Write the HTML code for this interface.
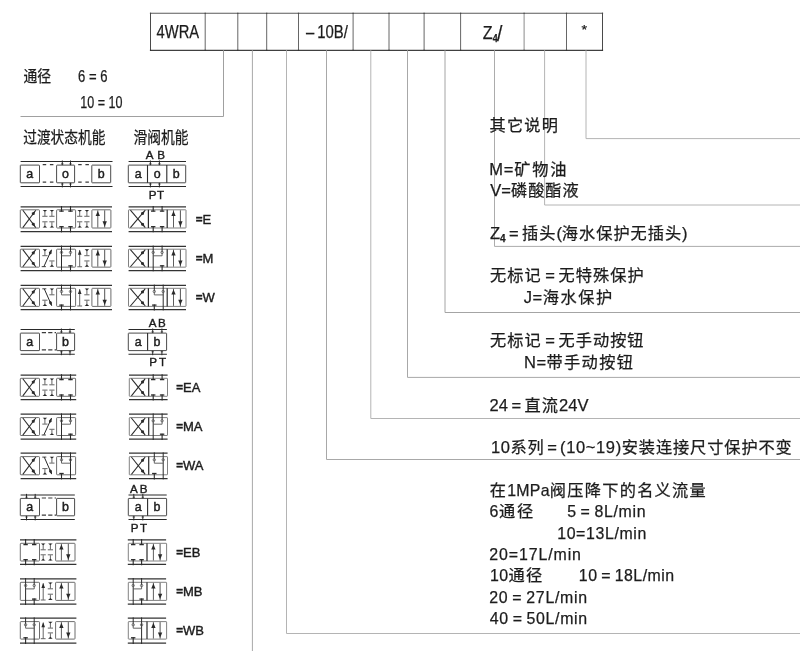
<!DOCTYPE html>
<html lang="zh-CN">
<head>
<meta charset="utf-8">
<title>4WRA 型号说明</title>
<style>
html,body{margin:0;padding:0;background:#fff;overflow:hidden}
svg{display:block;will-change:transform}
text{font-family:"Liberation Sans","Noto Sans CJK SC",sans-serif;white-space:pre;fill:#1c1c1c;stroke:#1c1c1c;stroke-width:0.25px}
</style>
</head>
<body>
<svg width="800" height="651" viewBox="0 0 800 651">
<rect x="0" y="0" width="800" height="651" fill="#ffffff"/>
<line x1="150.00" y1="13.30" x2="603.00" y2="13.30" stroke="#5a5a5a" stroke-width="1.1" />
<line x1="150.00" y1="50.30" x2="603.00" y2="50.30" stroke="#404040" stroke-width="1.2" />
<line x1="150.50" y1="13.30" x2="150.50" y2="50.30" stroke="#4a4a4a" stroke-width="1.0" />
<rect x="149.90" y="12.70" width="1.2" height="1.2" fill="#444"/>
<rect x="149.90" y="49.70" width="1.2" height="1.2" fill="#333"/>
<line x1="205.20" y1="13.30" x2="205.20" y2="50.30" stroke="#666" stroke-width="1.0" />
<rect x="204.60" y="12.70" width="1.2" height="1.2" fill="#444"/>
<rect x="204.60" y="49.70" width="1.2" height="1.2" fill="#333"/>
<line x1="237.80" y1="13.30" x2="237.80" y2="50.30" stroke="#666" stroke-width="1.0" />
<rect x="237.20" y="12.70" width="1.2" height="1.2" fill="#444"/>
<rect x="237.20" y="49.70" width="1.2" height="1.2" fill="#333"/>
<line x1="266.70" y1="13.30" x2="266.70" y2="50.30" stroke="#666" stroke-width="1.0" />
<rect x="266.10" y="12.70" width="1.2" height="1.2" fill="#444"/>
<rect x="266.10" y="49.70" width="1.2" height="1.2" fill="#333"/>
<line x1="298.50" y1="13.30" x2="298.50" y2="50.30" stroke="#666" stroke-width="1.0" />
<rect x="297.90" y="12.70" width="1.2" height="1.2" fill="#444"/>
<rect x="297.90" y="49.70" width="1.2" height="1.2" fill="#333"/>
<line x1="353.10" y1="13.30" x2="353.10" y2="50.30" stroke="#666" stroke-width="1.0" />
<rect x="352.50" y="12.70" width="1.2" height="1.2" fill="#444"/>
<rect x="352.50" y="49.70" width="1.2" height="1.2" fill="#333"/>
<line x1="389.00" y1="13.30" x2="389.00" y2="50.30" stroke="#666" stroke-width="1.0" />
<rect x="388.40" y="12.70" width="1.2" height="1.2" fill="#444"/>
<rect x="388.40" y="49.70" width="1.2" height="1.2" fill="#333"/>
<line x1="424.10" y1="13.30" x2="424.10" y2="50.30" stroke="#666" stroke-width="1.0" />
<rect x="423.50" y="12.70" width="1.2" height="1.2" fill="#444"/>
<rect x="423.50" y="49.70" width="1.2" height="1.2" fill="#333"/>
<line x1="460.60" y1="13.30" x2="460.60" y2="50.30" stroke="#666" stroke-width="1.0" />
<rect x="460.00" y="12.70" width="1.2" height="1.2" fill="#444"/>
<rect x="460.00" y="49.70" width="1.2" height="1.2" fill="#333"/>
<line x1="524.10" y1="13.30" x2="524.10" y2="50.30" stroke="#8a8a8a" stroke-width="1.0" />
<rect x="523.50" y="12.70" width="1.2" height="1.2" fill="#444"/>
<rect x="523.50" y="49.70" width="1.2" height="1.2" fill="#333"/>
<line x1="566.50" y1="13.30" x2="566.50" y2="50.30" stroke="#666" stroke-width="1.0" />
<rect x="565.90" y="12.70" width="1.2" height="1.2" fill="#444"/>
<rect x="565.90" y="49.70" width="1.2" height="1.2" fill="#333"/>
<line x1="602.50" y1="13.30" x2="602.50" y2="50.30" stroke="#4a4a4a" stroke-width="1.0" />
<rect x="601.90" y="12.70" width="1.2" height="1.2" fill="#444"/>
<rect x="601.90" y="49.70" width="1.2" height="1.2" fill="#333"/>
<polyline points="223.5,50.3 223.5,116.5 20.5,116.5" fill="none" stroke="#a0a0a0" stroke-width="1" stroke-linejoin="miter"/>
<line x1="252.40" y1="50.30" x2="252.40" y2="651.00" stroke="#a8a8a8" stroke-width="1.0" />
<polyline points="286.5,50.3 286.5,633.5 800,633.5" fill="none" stroke="#b4b4b4" stroke-width="1" stroke-linejoin="miter"/>
<polyline points="326.5,50.3 326.5,459.5 800,459.5" fill="none" stroke="#a8a8a8" stroke-width="1" stroke-linejoin="miter"/>
<polyline points="370.8,50.3 370.8,418.5 800,418.5" fill="none" stroke="#b4b4b4" stroke-width="1" stroke-linejoin="miter"/>
<polyline points="407.5,50.3 407.5,377.4 800,377.4" fill="none" stroke="#a8a8a8" stroke-width="1" stroke-linejoin="miter"/>
<polyline points="445.0,50.3 445.0,312.5 800,312.5" fill="none" stroke="#a4a4a4" stroke-width="1" stroke-linejoin="miter"/>
<polyline points="494.5,50.3 494.5,246.4 800,246.4" fill="none" stroke="#acacac" stroke-width="1" stroke-linejoin="miter"/>
<polyline points="544.6,50.3 544.6,205.0 800,205.0" fill="none" stroke="#b4b4b4" stroke-width="1" stroke-linejoin="miter"/>
<polyline points="586.0,50.3 586.0,138.6 800,138.6" fill="none" stroke="#b4b4b4" stroke-width="1" stroke-linejoin="miter"/>
<text x="156.60" y="38.20" font-size="17.6" textLength="42.60" lengthAdjust="spacingAndGlyphs" text-anchor="start" fill="#1c1c1c" >4WRA</text>
<text x="306.00" y="38.20" font-size="17.6" textLength="41.8" lengthAdjust="spacingAndGlyphs">–<tspan dx="3.4">10B/</tspan></text>
<text x="482.80" y="38.50" font-size="18.4" textLength="19.6" lengthAdjust="spacingAndGlyphs">Z<tspan font-size="10" dy="3.3" font-weight="bold">4</tspan><tspan font-size="22" dy="-0.6" dx="-0.6">/</tspan></text>
<text x="581.60" y="33.80" font-size="13.5" textLength="5.60" lengthAdjust="spacingAndGlyphs" text-anchor="start" fill="#1c1c1c" >*</text>
<text x="23.40" y="82.00" font-size="16.2" textLength="27.60" lengthAdjust="spacingAndGlyphs" text-anchor="start" fill="#1c1c1c" >通径</text>
<text x="78.00" y="82.00" font-size="16.6" textLength="29.40" lengthAdjust="spacingAndGlyphs" text-anchor="start" fill="#1c1c1c" >6 = 6</text>
<text x="80.20" y="107.60" font-size="16.6" textLength="42.20" lengthAdjust="spacingAndGlyphs" text-anchor="start" fill="#1c1c1c" >10 = 10</text>
<text x="23.20" y="142.80" font-size="16.2" textLength="82.20" lengthAdjust="spacingAndGlyphs" text-anchor="start" fill="#1c1c1c" >过渡状态机能</text>
<text x="133.40" y="142.80" font-size="16.2" textLength="55.00" lengthAdjust="spacingAndGlyphs" text-anchor="start" fill="#1c1c1c" >滑阀机能</text>
<line x1="20.60" y1="161.50" x2="112.50" y2="161.50" stroke="#2a2a2a" stroke-width="1.05" />
<line x1="20.60" y1="186.40" x2="112.50" y2="186.40" stroke="#2a2a2a" stroke-width="1.05" />
<rect x="20.30" y="165.10" width="19.20" height="17.70" rx="0.5" fill="none" stroke="#4c4c4c" stroke-width="1.0"/>
<rect x="56.60" y="165.10" width="18.00" height="17.70" rx="0.5" fill="none" stroke="#4c4c4c" stroke-width="1.0"/>
<rect x="91.80" y="165.10" width="18.90" height="17.70" rx="0.5" fill="none" stroke="#4c4c4c" stroke-width="1.0"/>
<line x1="42.70" y1="164.65" x2="56.00" y2="164.65" stroke="#3c3c3c" stroke-width="1.15" stroke-dasharray="3.5 3.7"/>
<line x1="42.70" y1="182.05" x2="56.00" y2="182.05" stroke="#3c3c3c" stroke-width="1.15" stroke-dasharray="3.5 3.7"/>
<line x1="78.20" y1="164.65" x2="91.50" y2="164.65" stroke="#3c3c3c" stroke-width="1.15" stroke-dasharray="3.5 3.7"/>
<line x1="78.20" y1="182.05" x2="91.50" y2="182.05" stroke="#3c3c3c" stroke-width="1.15" stroke-dasharray="3.5 3.7"/>
<line x1="62.30" y1="160.50" x2="62.30" y2="165.10" stroke="#2a2a2a" stroke-width="1.0" />
<line x1="62.30" y1="187.40" x2="62.30" y2="182.80" stroke="#2a2a2a" stroke-width="1.0" />
<line x1="61.10" y1="163.90" x2="63.50" y2="163.90" stroke="#2a2a2a" stroke-width="0.8" />
<line x1="61.10" y1="184.00" x2="63.50" y2="184.00" stroke="#2a2a2a" stroke-width="0.8" />
<line x1="70.50" y1="160.50" x2="70.50" y2="165.10" stroke="#2a2a2a" stroke-width="1.0" />
<line x1="70.50" y1="187.40" x2="70.50" y2="182.80" stroke="#2a2a2a" stroke-width="1.0" />
<line x1="69.30" y1="163.90" x2="71.70" y2="163.90" stroke="#2a2a2a" stroke-width="0.8" />
<line x1="69.30" y1="184.00" x2="71.70" y2="184.00" stroke="#2a2a2a" stroke-width="0.8" />
<text x="29.70" y="177.70" font-size="12.4" text-anchor="middle" fill="#1c1c1c" style="stroke-width:0.45px">a</text>
<text x="65.50" y="177.70" font-size="12.4" text-anchor="middle" fill="#1c1c1c" style="stroke-width:0.45px">o</text>
<text x="101.20" y="177.70" font-size="12.4" text-anchor="middle" fill="#1c1c1c" style="stroke-width:0.45px">b</text>
<line x1="128.60" y1="161.50" x2="186.00" y2="161.50" stroke="#2a2a2a" stroke-width="1.05" />
<line x1="128.60" y1="186.40" x2="186.00" y2="186.40" stroke="#2a2a2a" stroke-width="1.05" />
<rect x="128.30" y="165.10" width="57.40" height="17.70" rx="0.5" fill="none" stroke="#4c4c4c" stroke-width="1.0"/>
<line x1="147.50" y1="165.10" x2="147.50" y2="182.80" stroke="#2a2a2a" stroke-width="1.1" />
<line x1="166.80" y1="165.10" x2="166.80" y2="182.80" stroke="#2a2a2a" stroke-width="1.1" />
<line x1="150.40" y1="160.50" x2="150.40" y2="165.10" stroke="#2a2a2a" stroke-width="1.0" />
<line x1="150.40" y1="187.40" x2="150.40" y2="182.80" stroke="#2a2a2a" stroke-width="1.0" />
<line x1="149.20" y1="163.90" x2="151.60" y2="163.90" stroke="#2a2a2a" stroke-width="0.8" />
<line x1="149.20" y1="184.00" x2="151.60" y2="184.00" stroke="#2a2a2a" stroke-width="0.8" />
<line x1="159.40" y1="160.50" x2="159.40" y2="165.10" stroke="#2a2a2a" stroke-width="1.0" />
<line x1="159.40" y1="187.40" x2="159.40" y2="182.80" stroke="#2a2a2a" stroke-width="1.0" />
<line x1="158.20" y1="163.90" x2="160.60" y2="163.90" stroke="#2a2a2a" stroke-width="0.8" />
<line x1="158.20" y1="184.00" x2="160.60" y2="184.00" stroke="#2a2a2a" stroke-width="0.8" />
<text x="138.10" y="177.70" font-size="12.4" text-anchor="middle" fill="#1c1c1c" style="stroke-width:0.45px">a</text>
<text x="157.20" y="177.70" font-size="12.4" text-anchor="middle" fill="#1c1c1c" style="stroke-width:0.45px">o</text>
<text x="176.20" y="177.70" font-size="12.4" text-anchor="middle" fill="#1c1c1c" style="stroke-width:0.45px">b</text>
<text x="145.70" y="159.00" font-size="11.6" textLength="19.20" lengthAdjust="spacing" text-anchor="start" fill="#1c1c1c" style="stroke-width:0.4px">AB</text>
<text x="148.80" y="198.80" font-size="11.6" textLength="15.20" lengthAdjust="spacing" text-anchor="start" fill="#1c1c1c" style="stroke-width:0.4px">PT</text>
<line x1="20.60" y1="206.85" x2="112.00" y2="206.85" stroke="#333" stroke-width="1.25" />
<line x1="20.60" y1="231.55" x2="112.00" y2="231.55" stroke="#333" stroke-width="1.25" />
<rect x="20.30" y="209.80" width="19.20" height="18.20" rx="0.7" fill="none" stroke="#5c5c5c" stroke-width="0.9"/>
<line x1="22.80" y1="210.20" x2="35.80" y2="227.60" stroke="#2a2a2a" stroke-width="1.05" />
<line x1="22.80" y1="227.60" x2="35.80" y2="210.20" stroke="#2a2a2a" stroke-width="1.05" />
<polygon points="35.02,211.24 34.57,214.77 32.03,215.25 31.76,212.68" fill="#2a2a2a"/>
<polygon points="35.02,226.56 31.76,225.12 32.03,222.55 34.57,223.03" fill="#2a2a2a"/>
<rect x="56.60" y="209.80" width="19.00" height="18.20" rx="0.7" fill="none" stroke="#5c5c5c" stroke-width="0.9"/>
<rect x="91.90" y="209.80" width="19.00" height="18.20" rx="0.7" fill="none" stroke="#5c5c5c" stroke-width="0.9"/>
<line x1="97.80" y1="210.30" x2="97.80" y2="227.50" stroke="#555" stroke-width="0.95" />
<line x1="104.70" y1="210.30" x2="104.70" y2="227.50" stroke="#4a4a4a" stroke-width="0.95" />
<polygon points="97.80,210.90 99.95,216.10 95.65,216.10" fill="#2a2a2a"/>
<polygon points="104.70,226.70 102.55,221.30 106.85,221.30" fill="#2a2a2a"/>
<line x1="44.90" y1="210.10" x2="44.90" y2="216.00" stroke="#555" stroke-width="0.9" />
<polygon points="42.60,209.90 47.20,209.90 44.90,211.80" fill="#2a2a2a"/>
<line x1="42.30" y1="216.30" x2="47.50" y2="216.30" stroke="#555" stroke-width="0.9" />
<line x1="44.90" y1="227.50" x2="44.90" y2="222.20" stroke="#555" stroke-width="0.9" />
<polygon points="42.60,227.60 47.20,227.60 44.90,225.70" fill="#2a2a2a"/>
<line x1="42.30" y1="221.80" x2="47.50" y2="221.80" stroke="#555" stroke-width="0.9" />
<line x1="51.90" y1="210.10" x2="51.90" y2="216.00" stroke="#555" stroke-width="0.9" />
<polygon points="49.60,209.90 54.20,209.90 51.90,211.80" fill="#2a2a2a"/>
<line x1="49.30" y1="216.30" x2="54.50" y2="216.30" stroke="#555" stroke-width="0.9" />
<line x1="51.90" y1="227.50" x2="51.90" y2="222.20" stroke="#555" stroke-width="0.9" />
<polygon points="49.60,227.60 54.20,227.60 51.90,225.70" fill="#2a2a2a"/>
<line x1="49.30" y1="221.80" x2="54.50" y2="221.80" stroke="#555" stroke-width="0.9" />
<line x1="79.70" y1="210.10" x2="79.70" y2="216.00" stroke="#555" stroke-width="0.9" />
<polygon points="77.40,209.90 82.00,209.90 79.70,211.80" fill="#2a2a2a"/>
<line x1="77.10" y1="216.30" x2="82.30" y2="216.30" stroke="#555" stroke-width="0.9" />
<line x1="79.70" y1="227.50" x2="79.70" y2="222.20" stroke="#555" stroke-width="0.9" />
<polygon points="77.40,227.60 82.00,227.60 79.70,225.70" fill="#2a2a2a"/>
<line x1="77.10" y1="221.80" x2="82.30" y2="221.80" stroke="#555" stroke-width="0.9" />
<line x1="86.90" y1="210.10" x2="86.90" y2="216.00" stroke="#555" stroke-width="0.9" />
<polygon points="84.60,209.90 89.20,209.90 86.90,211.80" fill="#2a2a2a"/>
<line x1="84.30" y1="216.30" x2="89.50" y2="216.30" stroke="#555" stroke-width="0.9" />
<line x1="86.90" y1="227.50" x2="86.90" y2="222.20" stroke="#555" stroke-width="0.9" />
<polygon points="84.60,227.60 89.20,227.60 86.90,225.70" fill="#2a2a2a"/>
<line x1="84.30" y1="221.80" x2="89.50" y2="221.80" stroke="#555" stroke-width="0.9" />
<line x1="61.50" y1="206.05" x2="61.50" y2="211.60" stroke="#2a2a2a" stroke-width="1.1" />
<line x1="59.30" y1="211.10" x2="63.70" y2="211.10" stroke="#2a2a2a" stroke-width="1.3" />
<line x1="61.50" y1="232.35" x2="61.50" y2="226.20" stroke="#2a2a2a" stroke-width="1.1" />
<line x1="59.30" y1="226.70" x2="63.70" y2="226.70" stroke="#2a2a2a" stroke-width="1.3" />
<line x1="70.50" y1="206.05" x2="70.50" y2="211.60" stroke="#2a2a2a" stroke-width="1.1" />
<line x1="68.30" y1="211.10" x2="72.70" y2="211.10" stroke="#2a2a2a" stroke-width="1.3" />
<line x1="70.50" y1="232.35" x2="70.50" y2="226.20" stroke="#2a2a2a" stroke-width="1.1" />
<line x1="68.30" y1="226.70" x2="72.70" y2="226.70" stroke="#2a2a2a" stroke-width="1.3" />
<line x1="128.60" y1="206.85" x2="186.00" y2="206.85" stroke="#333" stroke-width="1.25" />
<line x1="128.60" y1="231.55" x2="186.00" y2="231.55" stroke="#333" stroke-width="1.25" />
<rect x="128.50" y="209.80" width="57.50" height="18.20" rx="0.5" fill="none" stroke="#6a6a6a" stroke-width="0.85"/>
<line x1="148.40" y1="209.80" x2="148.40" y2="228.00" stroke="#2a2a2a" stroke-width="1.2" />
<line x1="167.20" y1="209.80" x2="167.20" y2="228.00" stroke="#2a2a2a" stroke-width="1.2" />
<line x1="130.40" y1="210.20" x2="145.30" y2="227.60" stroke="#2a2a2a" stroke-width="1.05" />
<line x1="130.40" y1="227.60" x2="145.30" y2="210.20" stroke="#2a2a2a" stroke-width="1.05" />
<polygon points="144.41,211.24 143.72,214.74 141.15,215.04 141.06,212.46" fill="#2a2a2a"/>
<polygon points="144.41,226.56 141.06,225.34 141.15,222.76 143.72,223.06" fill="#2a2a2a"/>
<line x1="173.50" y1="210.30" x2="173.50" y2="227.50" stroke="#555" stroke-width="0.95" />
<line x1="180.40" y1="210.30" x2="180.40" y2="227.50" stroke="#4a4a4a" stroke-width="0.95" />
<polygon points="173.50,210.90 175.65,216.10 171.35,216.10" fill="#2a2a2a"/>
<polygon points="180.40,226.70 178.25,221.30 182.55,221.30" fill="#2a2a2a"/>
<line x1="153.20" y1="206.05" x2="153.20" y2="211.60" stroke="#2a2a2a" stroke-width="1.1" />
<line x1="151.00" y1="211.10" x2="155.40" y2="211.10" stroke="#2a2a2a" stroke-width="1.3" />
<line x1="153.20" y1="232.35" x2="153.20" y2="226.20" stroke="#2a2a2a" stroke-width="1.1" />
<line x1="151.00" y1="226.70" x2="155.40" y2="226.70" stroke="#2a2a2a" stroke-width="1.3" />
<line x1="162.10" y1="206.05" x2="162.10" y2="211.60" stroke="#2a2a2a" stroke-width="1.1" />
<line x1="159.90" y1="211.10" x2="164.30" y2="211.10" stroke="#2a2a2a" stroke-width="1.3" />
<line x1="162.10" y1="232.35" x2="162.10" y2="226.20" stroke="#2a2a2a" stroke-width="1.1" />
<line x1="159.90" y1="226.70" x2="164.30" y2="226.70" stroke="#2a2a2a" stroke-width="1.3" />
<text x="195.80" y="223.70" font-size="13" style="stroke-width:0.4px"><tspan font-size="11.6" font-weight="bold" dy="-0.8">=</tspan><tspan dy="0.8">E</tspan></text>
<line x1="20.60" y1="246.35" x2="112.00" y2="246.35" stroke="#333" stroke-width="1.25" />
<line x1="20.60" y1="270.50" x2="112.00" y2="270.50" stroke="#333" stroke-width="1.25" />
<rect x="20.30" y="249.20" width="19.20" height="17.95" rx="0.7" fill="none" stroke="#5c5c5c" stroke-width="0.9"/>
<line x1="22.80" y1="249.60" x2="35.80" y2="266.75" stroke="#2a2a2a" stroke-width="1.05" />
<line x1="22.80" y1="266.75" x2="35.80" y2="249.60" stroke="#2a2a2a" stroke-width="1.05" />
<polygon points="35.02,250.63 34.54,254.16 32.00,254.61 31.75,252.04" fill="#2a2a2a"/>
<polygon points="35.02,265.72 31.75,264.31 32.00,261.74 34.54,262.19" fill="#2a2a2a"/>
<rect x="56.60" y="249.20" width="19.00" height="17.95" rx="0.7" fill="none" stroke="#5c5c5c" stroke-width="0.9"/>
<rect x="91.90" y="249.20" width="19.00" height="17.95" rx="0.7" fill="none" stroke="#5c5c5c" stroke-width="0.9"/>
<line x1="97.80" y1="249.70" x2="97.80" y2="266.65" stroke="#555" stroke-width="0.95" />
<line x1="104.70" y1="249.70" x2="104.70" y2="266.65" stroke="#4a4a4a" stroke-width="0.95" />
<polygon points="97.80,250.30 99.95,255.50 95.65,255.50" fill="#2a2a2a"/>
<polygon points="104.70,265.85 102.55,260.45 106.85,260.45" fill="#2a2a2a"/>
<line x1="44.90" y1="249.50" x2="44.90" y2="255.40" stroke="#555" stroke-width="0.9" />
<polygon points="42.60,249.30 47.20,249.30 44.90,251.20" fill="#2a2a2a"/>
<line x1="42.30" y1="255.70" x2="47.50" y2="255.70" stroke="#555" stroke-width="0.9" />
<line x1="51.90" y1="266.65" x2="51.90" y2="261.35" stroke="#555" stroke-width="0.9" />
<polygon points="49.60,266.75 54.20,266.75 51.90,264.85" fill="#2a2a2a"/>
<line x1="49.30" y1="260.95" x2="54.50" y2="260.95" stroke="#555" stroke-width="0.9" />
<line x1="43.90" y1="266.55" x2="51.50" y2="249.80" stroke="#2a2a2a" stroke-width="1.0" />
<polygon points="51.70,249.40 51.63,253.41 49.36,254.93 48.87,252.24" fill="#2a2a2a"/>
<line x1="41.70" y1="266.65" x2="45.90" y2="266.65" stroke="#2a2a2a" stroke-width="0.9" />
<line x1="79.70" y1="250.20" x2="79.70" y2="266.65" stroke="#555" stroke-width="0.9" />
<polygon points="79.70,249.80 81.50,254.80 77.90,254.80" fill="#2a2a2a"/>
<line x1="77.30" y1="266.75" x2="82.10" y2="266.75" stroke="#555" stroke-width="0.9" />
<line x1="86.90" y1="249.50" x2="86.90" y2="255.40" stroke="#555" stroke-width="0.9" />
<polygon points="84.60,249.30 89.20,249.30 86.90,251.20" fill="#2a2a2a"/>
<line x1="84.30" y1="255.70" x2="89.50" y2="255.70" stroke="#555" stroke-width="0.9" />
<line x1="86.90" y1="266.65" x2="86.90" y2="261.35" stroke="#555" stroke-width="0.9" />
<polygon points="84.60,266.75 89.20,266.75 86.90,264.85" fill="#2a2a2a"/>
<line x1="84.30" y1="260.95" x2="89.50" y2="260.95" stroke="#555" stroke-width="0.9" />
<line x1="61.50" y1="245.55" x2="61.50" y2="271.30" stroke="#2a2a2a" stroke-width="1.0" />
<line x1="70.50" y1="245.55" x2="70.50" y2="252.20" stroke="#2a2a2a" stroke-width="1.0" />
<circle cx="61.50" cy="252.40" r="1.2" fill="none" stroke="#555" stroke-width="0.8"/>
<circle cx="70.50" cy="252.40" r="1.2" fill="none" stroke="#555" stroke-width="0.8"/>
<line x1="61.50" y1="255.80" x2="70.50" y2="255.80" stroke="#555" stroke-width="0.9" />
<line x1="70.50" y1="252.40" x2="70.50" y2="255.80" stroke="#555" stroke-width="0.9" />
<line x1="70.50" y1="271.30" x2="70.50" y2="265.35" stroke="#2a2a2a" stroke-width="1.1" />
<line x1="68.30" y1="265.85" x2="72.70" y2="265.85" stroke="#2a2a2a" stroke-width="1.3" />
<line x1="128.60" y1="246.35" x2="186.00" y2="246.35" stroke="#333" stroke-width="1.25" />
<line x1="128.60" y1="270.50" x2="186.00" y2="270.50" stroke="#333" stroke-width="1.25" />
<rect x="128.50" y="249.20" width="57.50" height="17.95" rx="0.5" fill="none" stroke="#6a6a6a" stroke-width="0.85"/>
<line x1="148.40" y1="249.20" x2="148.40" y2="267.15" stroke="#2a2a2a" stroke-width="1.2" />
<line x1="167.20" y1="249.20" x2="167.20" y2="267.15" stroke="#2a2a2a" stroke-width="1.2" />
<line x1="130.40" y1="249.60" x2="145.30" y2="266.75" stroke="#2a2a2a" stroke-width="1.05" />
<line x1="130.40" y1="266.75" x2="145.30" y2="249.60" stroke="#2a2a2a" stroke-width="1.05" />
<polygon points="144.41,250.63 143.69,254.12 141.13,254.40 141.05,251.82" fill="#2a2a2a"/>
<polygon points="144.41,265.72 141.05,264.53 141.13,261.95 143.69,262.23" fill="#2a2a2a"/>
<line x1="173.50" y1="249.70" x2="173.50" y2="266.65" stroke="#555" stroke-width="0.95" />
<line x1="180.40" y1="249.70" x2="180.40" y2="266.65" stroke="#4a4a4a" stroke-width="0.95" />
<polygon points="173.50,250.30 175.65,255.50 171.35,255.50" fill="#2a2a2a"/>
<polygon points="180.40,265.85 178.25,260.45 182.55,260.45" fill="#2a2a2a"/>
<line x1="153.20" y1="245.55" x2="153.20" y2="271.30" stroke="#2a2a2a" stroke-width="1.0" />
<line x1="162.10" y1="245.55" x2="162.10" y2="252.20" stroke="#2a2a2a" stroke-width="1.0" />
<circle cx="153.20" cy="252.40" r="1.2" fill="none" stroke="#555" stroke-width="0.8"/>
<circle cx="162.10" cy="252.40" r="1.2" fill="none" stroke="#555" stroke-width="0.8"/>
<line x1="153.20" y1="255.80" x2="162.10" y2="255.80" stroke="#555" stroke-width="0.9" />
<line x1="162.10" y1="252.40" x2="162.10" y2="255.80" stroke="#555" stroke-width="0.9" />
<line x1="162.10" y1="271.30" x2="162.10" y2="265.35" stroke="#2a2a2a" stroke-width="1.1" />
<line x1="159.90" y1="265.85" x2="164.30" y2="265.85" stroke="#2a2a2a" stroke-width="1.3" />
<text x="195.80" y="262.97" font-size="13" style="stroke-width:0.4px"><tspan font-size="11.6" font-weight="bold" dy="-0.8">=</tspan><tspan dy="0.8">M</tspan></text>
<line x1="20.60" y1="285.40" x2="112.00" y2="285.40" stroke="#333" stroke-width="1.25" />
<line x1="20.60" y1="309.60" x2="112.00" y2="309.60" stroke="#333" stroke-width="1.25" />
<rect x="20.30" y="288.30" width="19.20" height="18.10" rx="0.7" fill="none" stroke="#5c5c5c" stroke-width="0.9"/>
<line x1="22.80" y1="288.70" x2="35.80" y2="306.00" stroke="#2a2a2a" stroke-width="1.05" />
<line x1="22.80" y1="306.00" x2="35.80" y2="288.70" stroke="#2a2a2a" stroke-width="1.05" />
<polygon points="35.02,289.74 34.56,293.27 32.02,293.74 31.76,291.16" fill="#2a2a2a"/>
<polygon points="35.02,304.96 31.76,303.54 32.02,300.96 34.56,301.43" fill="#2a2a2a"/>
<rect x="56.60" y="288.30" width="19.00" height="18.10" rx="0.7" fill="none" stroke="#5c5c5c" stroke-width="0.9"/>
<rect x="91.90" y="288.30" width="19.00" height="18.10" rx="0.7" fill="none" stroke="#5c5c5c" stroke-width="0.9"/>
<line x1="97.80" y1="288.80" x2="97.80" y2="305.90" stroke="#555" stroke-width="0.95" />
<line x1="104.70" y1="288.80" x2="104.70" y2="305.90" stroke="#4a4a4a" stroke-width="0.95" />
<polygon points="97.80,289.40 99.95,294.60 95.65,294.60" fill="#2a2a2a"/>
<polygon points="104.70,305.10 102.55,299.70 106.85,299.70" fill="#2a2a2a"/>
<line x1="51.90" y1="288.60" x2="51.90" y2="294.50" stroke="#555" stroke-width="0.9" />
<polygon points="49.60,288.40 54.20,288.40 51.90,290.30" fill="#2a2a2a"/>
<line x1="49.30" y1="294.80" x2="54.50" y2="294.80" stroke="#555" stroke-width="0.9" />
<line x1="44.90" y1="305.90" x2="44.90" y2="300.60" stroke="#555" stroke-width="0.9" />
<polygon points="42.60,306.00 47.20,306.00 44.90,304.10" fill="#2a2a2a"/>
<line x1="42.30" y1="300.20" x2="47.50" y2="300.20" stroke="#555" stroke-width="0.9" />
<line x1="44.30" y1="288.90" x2="51.70" y2="305.60" stroke="#2a2a2a" stroke-width="1.0" />
<polygon points="51.90,306.10 49.08,303.25 49.58,300.57 51.84,302.09" fill="#2a2a2a"/>
<line x1="42.30" y1="288.80" x2="46.30" y2="288.80" stroke="#2a2a2a" stroke-width="0.9" />
<line x1="79.70" y1="289.30" x2="79.70" y2="305.90" stroke="#555" stroke-width="0.9" />
<polygon points="79.70,288.90 81.50,293.90 77.90,293.90" fill="#2a2a2a"/>
<line x1="77.30" y1="306.00" x2="82.10" y2="306.00" stroke="#555" stroke-width="0.9" />
<line x1="86.90" y1="288.60" x2="86.90" y2="294.50" stroke="#555" stroke-width="0.9" />
<polygon points="84.60,288.40 89.20,288.40 86.90,290.30" fill="#2a2a2a"/>
<line x1="84.30" y1="294.80" x2="89.50" y2="294.80" stroke="#555" stroke-width="0.9" />
<line x1="86.90" y1="305.90" x2="86.90" y2="300.60" stroke="#555" stroke-width="0.9" />
<polygon points="84.60,306.00 89.20,306.00 86.90,304.10" fill="#2a2a2a"/>
<line x1="84.30" y1="300.20" x2="89.50" y2="300.20" stroke="#555" stroke-width="0.9" />
<line x1="70.50" y1="284.60" x2="70.50" y2="310.40" stroke="#2a2a2a" stroke-width="1.0" />
<line x1="61.50" y1="284.60" x2="61.50" y2="291.30" stroke="#2a2a2a" stroke-width="1.0" />
<circle cx="70.50" cy="291.50" r="1.2" fill="none" stroke="#555" stroke-width="0.8"/>
<circle cx="61.50" cy="291.50" r="1.2" fill="none" stroke="#555" stroke-width="0.8"/>
<line x1="61.50" y1="294.90" x2="70.50" y2="294.90" stroke="#555" stroke-width="0.9" />
<line x1="61.50" y1="291.50" x2="61.50" y2="294.90" stroke="#555" stroke-width="0.9" />
<line x1="61.50" y1="310.40" x2="61.50" y2="304.60" stroke="#2a2a2a" stroke-width="1.1" />
<line x1="59.30" y1="305.10" x2="63.70" y2="305.10" stroke="#2a2a2a" stroke-width="1.3" />
<line x1="128.60" y1="285.40" x2="186.00" y2="285.40" stroke="#333" stroke-width="1.25" />
<line x1="128.60" y1="309.60" x2="186.00" y2="309.60" stroke="#333" stroke-width="1.25" />
<rect x="128.50" y="288.30" width="57.50" height="18.10" rx="0.5" fill="none" stroke="#6a6a6a" stroke-width="0.85"/>
<line x1="148.40" y1="288.30" x2="148.40" y2="306.40" stroke="#2a2a2a" stroke-width="1.2" />
<line x1="167.20" y1="288.30" x2="167.20" y2="306.40" stroke="#2a2a2a" stroke-width="1.2" />
<line x1="130.40" y1="288.70" x2="145.30" y2="306.00" stroke="#2a2a2a" stroke-width="1.05" />
<line x1="130.40" y1="306.00" x2="145.30" y2="288.70" stroke="#2a2a2a" stroke-width="1.05" />
<polygon points="144.41,289.74 143.71,293.23 141.14,293.53 141.06,290.94" fill="#2a2a2a"/>
<polygon points="144.41,304.96 141.06,303.76 141.14,301.17 143.71,301.47" fill="#2a2a2a"/>
<line x1="173.50" y1="288.80" x2="173.50" y2="305.90" stroke="#555" stroke-width="0.95" />
<line x1="180.40" y1="288.80" x2="180.40" y2="305.90" stroke="#4a4a4a" stroke-width="0.95" />
<polygon points="173.50,289.40 175.65,294.60 171.35,294.60" fill="#2a2a2a"/>
<polygon points="180.40,305.10 178.25,299.70 182.55,299.70" fill="#2a2a2a"/>
<line x1="163.20" y1="284.60" x2="163.20" y2="310.40" stroke="#2a2a2a" stroke-width="1.0" />
<line x1="154.30" y1="284.60" x2="154.30" y2="291.30" stroke="#2a2a2a" stroke-width="1.0" />
<circle cx="163.20" cy="291.50" r="1.2" fill="none" stroke="#555" stroke-width="0.8"/>
<circle cx="154.30" cy="291.50" r="1.2" fill="none" stroke="#555" stroke-width="0.8"/>
<line x1="154.30" y1="294.90" x2="163.20" y2="294.90" stroke="#555" stroke-width="0.9" />
<line x1="154.30" y1="291.50" x2="154.30" y2="294.90" stroke="#555" stroke-width="0.9" />
<line x1="154.30" y1="310.40" x2="154.30" y2="304.60" stroke="#2a2a2a" stroke-width="1.1" />
<line x1="152.10" y1="305.10" x2="156.50" y2="305.10" stroke="#2a2a2a" stroke-width="1.3" />
<text x="195.80" y="302.15" font-size="13" style="stroke-width:0.4px"><tspan font-size="11.6" font-weight="bold" dy="-0.8">=</tspan><tspan dy="0.8">W</tspan></text>
<line x1="20.60" y1="329.50" x2="74.80" y2="329.50" stroke="#2a2a2a" stroke-width="1.05" />
<line x1="20.60" y1="354.20" x2="74.80" y2="354.20" stroke="#2a2a2a" stroke-width="1.05" />
<rect x="20.30" y="333.10" width="19.20" height="17.50" rx="0.5" fill="none" stroke="#4c4c4c" stroke-width="1.0"/>
<rect x="56.60" y="333.10" width="18.00" height="17.50" rx="0.5" fill="none" stroke="#4c4c4c" stroke-width="1.0"/>
<line x1="41.80" y1="332.65" x2="56.00" y2="332.65" stroke="#3c3c3c" stroke-width="1.15" stroke-dasharray="4.2 2.2"/>
<line x1="41.80" y1="349.85" x2="56.00" y2="349.85" stroke="#3c3c3c" stroke-width="1.15" stroke-dasharray="4.2 2.2"/>
<line x1="61.40" y1="328.50" x2="61.40" y2="333.10" stroke="#2a2a2a" stroke-width="1.0" />
<line x1="61.40" y1="355.20" x2="61.40" y2="350.60" stroke="#2a2a2a" stroke-width="1.0" />
<line x1="60.20" y1="331.90" x2="62.60" y2="331.90" stroke="#2a2a2a" stroke-width="0.8" />
<line x1="60.20" y1="351.80" x2="62.60" y2="351.80" stroke="#2a2a2a" stroke-width="0.8" />
<line x1="70.00" y1="328.50" x2="70.00" y2="333.10" stroke="#2a2a2a" stroke-width="1.0" />
<line x1="70.00" y1="355.20" x2="70.00" y2="350.60" stroke="#2a2a2a" stroke-width="1.0" />
<line x1="68.80" y1="331.90" x2="71.20" y2="331.90" stroke="#2a2a2a" stroke-width="0.8" />
<line x1="68.80" y1="351.80" x2="71.20" y2="351.80" stroke="#2a2a2a" stroke-width="0.8" />
<text x="29.70" y="345.50" font-size="12.4" text-anchor="middle" fill="#1c1c1c" style="stroke-width:0.45px">a</text>
<text x="65.50" y="345.50" font-size="12.4" text-anchor="middle" fill="#1c1c1c" style="stroke-width:0.45px">b</text>
<line x1="128.50" y1="329.50" x2="166.90" y2="329.50" stroke="#2a2a2a" stroke-width="1.05" />
<line x1="128.50" y1="354.20" x2="166.90" y2="354.20" stroke="#2a2a2a" stroke-width="1.05" />
<rect x="128.30" y="333.10" width="38.30" height="17.50" rx="0.5" fill="none" stroke="#4c4c4c" stroke-width="1.0"/>
<line x1="147.60" y1="333.10" x2="147.60" y2="350.60" stroke="#2a2a2a" stroke-width="1.1" />
<line x1="152.70" y1="328.50" x2="152.70" y2="333.10" stroke="#2a2a2a" stroke-width="1.0" />
<line x1="152.70" y1="355.20" x2="152.70" y2="350.60" stroke="#2a2a2a" stroke-width="1.0" />
<line x1="151.50" y1="331.90" x2="153.90" y2="331.90" stroke="#2a2a2a" stroke-width="0.8" />
<line x1="151.50" y1="351.80" x2="153.90" y2="351.80" stroke="#2a2a2a" stroke-width="0.8" />
<line x1="161.90" y1="328.50" x2="161.90" y2="333.10" stroke="#2a2a2a" stroke-width="1.0" />
<line x1="161.90" y1="355.20" x2="161.90" y2="350.60" stroke="#2a2a2a" stroke-width="1.0" />
<line x1="160.70" y1="331.90" x2="163.10" y2="331.90" stroke="#2a2a2a" stroke-width="0.8" />
<line x1="160.70" y1="351.80" x2="163.10" y2="351.80" stroke="#2a2a2a" stroke-width="0.8" />
<text x="138.10" y="345.50" font-size="12.4" text-anchor="middle" fill="#1c1c1c" style="stroke-width:0.45px">a</text>
<text x="156.90" y="345.50" font-size="12.4" text-anchor="middle" fill="#1c1c1c" style="stroke-width:0.45px">b</text>
<text x="148.80" y="327.00" font-size="11.6" textLength="17.00" lengthAdjust="spacing" text-anchor="start" fill="#1c1c1c" style="stroke-width:0.4px">AB</text>
<text x="149.20" y="366.10" font-size="11.6" textLength="17.00" lengthAdjust="spacing" text-anchor="start" fill="#1c1c1c" style="stroke-width:0.4px">PT</text>
<line x1="20.60" y1="375.00" x2="76.20" y2="375.00" stroke="#333" stroke-width="1.25" />
<line x1="20.60" y1="399.70" x2="76.20" y2="399.70" stroke="#333" stroke-width="1.25" />
<rect x="20.30" y="378.30" width="19.20" height="18.00" rx="0.7" fill="none" stroke="#5c5c5c" stroke-width="0.9"/>
<line x1="22.80" y1="378.70" x2="35.80" y2="395.90" stroke="#2a2a2a" stroke-width="1.05" />
<line x1="22.80" y1="395.90" x2="35.80" y2="378.70" stroke="#2a2a2a" stroke-width="1.05" />
<polygon points="35.02,379.73 34.55,383.26 32.01,383.72 31.75,381.15" fill="#2a2a2a"/>
<polygon points="35.02,394.87 31.75,393.45 32.01,390.88 34.55,391.34" fill="#2a2a2a"/>
<rect x="56.60" y="378.30" width="19.00" height="18.00" rx="0.7" fill="none" stroke="#5c5c5c" stroke-width="0.9"/>
<line x1="44.90" y1="378.60" x2="44.90" y2="384.50" stroke="#555" stroke-width="0.9" />
<polygon points="42.60,378.40 47.20,378.40 44.90,380.30" fill="#2a2a2a"/>
<line x1="42.30" y1="384.80" x2="47.50" y2="384.80" stroke="#555" stroke-width="0.9" />
<line x1="44.90" y1="395.80" x2="44.90" y2="390.50" stroke="#555" stroke-width="0.9" />
<polygon points="42.60,395.90 47.20,395.90 44.90,394.00" fill="#2a2a2a"/>
<line x1="42.30" y1="390.10" x2="47.50" y2="390.10" stroke="#555" stroke-width="0.9" />
<line x1="51.90" y1="378.60" x2="51.90" y2="384.50" stroke="#555" stroke-width="0.9" />
<polygon points="49.60,378.40 54.20,378.40 51.90,380.30" fill="#2a2a2a"/>
<line x1="49.30" y1="384.80" x2="54.50" y2="384.80" stroke="#555" stroke-width="0.9" />
<line x1="51.90" y1="395.80" x2="51.90" y2="390.50" stroke="#555" stroke-width="0.9" />
<polygon points="49.60,395.90 54.20,395.90 51.90,394.00" fill="#2a2a2a"/>
<line x1="49.30" y1="390.10" x2="54.50" y2="390.10" stroke="#555" stroke-width="0.9" />
<line x1="61.50" y1="374.20" x2="61.50" y2="380.10" stroke="#2a2a2a" stroke-width="1.1" />
<line x1="59.30" y1="379.60" x2="63.70" y2="379.60" stroke="#2a2a2a" stroke-width="1.3" />
<line x1="61.50" y1="400.50" x2="61.50" y2="394.50" stroke="#2a2a2a" stroke-width="1.1" />
<line x1="59.30" y1="395.00" x2="63.70" y2="395.00" stroke="#2a2a2a" stroke-width="1.3" />
<line x1="70.50" y1="374.20" x2="70.50" y2="380.10" stroke="#2a2a2a" stroke-width="1.1" />
<line x1="68.30" y1="379.60" x2="72.70" y2="379.60" stroke="#2a2a2a" stroke-width="1.3" />
<line x1="70.50" y1="400.50" x2="70.50" y2="394.50" stroke="#2a2a2a" stroke-width="1.1" />
<line x1="68.30" y1="395.00" x2="72.70" y2="395.00" stroke="#2a2a2a" stroke-width="1.3" />
<line x1="129.00" y1="375.00" x2="167.60" y2="375.00" stroke="#333" stroke-width="1.25" />
<line x1="129.00" y1="399.70" x2="167.60" y2="399.70" stroke="#333" stroke-width="1.25" />
<rect x="129.30" y="378.30" width="38.20" height="18.00" rx="0.5" fill="none" stroke="#6a6a6a" stroke-width="0.85"/>
<line x1="148.70" y1="378.30" x2="148.70" y2="396.30" stroke="#2a2a2a" stroke-width="1.2" />
<line x1="131.40" y1="378.70" x2="145.20" y2="395.90" stroke="#2a2a2a" stroke-width="1.05" />
<line x1="131.40" y1="395.90" x2="145.20" y2="378.70" stroke="#2a2a2a" stroke-width="1.05" />
<polygon points="144.37,379.73 143.80,383.25 141.24,383.63 141.07,381.05" fill="#2a2a2a"/>
<polygon points="144.37,394.87 141.07,393.55 141.24,390.97 143.80,391.35" fill="#2a2a2a"/>
<line x1="153.20" y1="374.20" x2="153.20" y2="380.10" stroke="#2a2a2a" stroke-width="1.1" />
<line x1="151.00" y1="379.60" x2="155.40" y2="379.60" stroke="#2a2a2a" stroke-width="1.3" />
<line x1="153.20" y1="400.50" x2="153.20" y2="394.50" stroke="#2a2a2a" stroke-width="1.1" />
<line x1="151.00" y1="395.00" x2="155.40" y2="395.00" stroke="#2a2a2a" stroke-width="1.3" />
<line x1="162.10" y1="374.20" x2="162.10" y2="380.10" stroke="#2a2a2a" stroke-width="1.1" />
<line x1="159.90" y1="379.60" x2="164.30" y2="379.60" stroke="#2a2a2a" stroke-width="1.3" />
<line x1="162.10" y1="400.50" x2="162.10" y2="394.50" stroke="#2a2a2a" stroke-width="1.1" />
<line x1="159.90" y1="395.00" x2="164.30" y2="395.00" stroke="#2a2a2a" stroke-width="1.3" />
<text x="176.20" y="391.80" font-size="13" style="stroke-width:0.4px"><tspan font-size="11.6" font-weight="bold" dy="-0.8">=</tspan><tspan dy="0.8">EA</tspan></text>
<line x1="20.60" y1="414.20" x2="76.20" y2="414.20" stroke="#333" stroke-width="1.25" />
<line x1="20.60" y1="439.20" x2="76.20" y2="439.20" stroke="#333" stroke-width="1.25" />
<rect x="20.30" y="417.60" width="19.20" height="17.90" rx="0.7" fill="none" stroke="#5c5c5c" stroke-width="0.9"/>
<line x1="22.80" y1="418.00" x2="35.80" y2="435.10" stroke="#2a2a2a" stroke-width="1.05" />
<line x1="22.80" y1="435.10" x2="35.80" y2="418.00" stroke="#2a2a2a" stroke-width="1.05" />
<polygon points="35.02,419.03 34.54,422.55 31.99,423.01 31.75,420.43" fill="#2a2a2a"/>
<polygon points="35.02,434.07 31.75,432.67 31.99,430.09 34.54,430.55" fill="#2a2a2a"/>
<rect x="56.60" y="417.60" width="19.00" height="17.90" rx="0.7" fill="none" stroke="#5c5c5c" stroke-width="0.9"/>
<line x1="44.90" y1="417.90" x2="44.90" y2="423.80" stroke="#555" stroke-width="0.9" />
<polygon points="42.60,417.70 47.20,417.70 44.90,419.60" fill="#2a2a2a"/>
<line x1="42.30" y1="424.10" x2="47.50" y2="424.10" stroke="#555" stroke-width="0.9" />
<line x1="51.90" y1="435.00" x2="51.90" y2="429.70" stroke="#555" stroke-width="0.9" />
<polygon points="49.60,435.10 54.20,435.10 51.90,433.20" fill="#2a2a2a"/>
<line x1="49.30" y1="429.30" x2="54.50" y2="429.30" stroke="#555" stroke-width="0.9" />
<line x1="43.90" y1="434.90" x2="51.50" y2="418.20" stroke="#2a2a2a" stroke-width="1.0" />
<polygon points="51.70,417.80 51.63,421.81 49.36,423.32 48.87,420.64" fill="#2a2a2a"/>
<line x1="41.70" y1="435.00" x2="45.90" y2="435.00" stroke="#2a2a2a" stroke-width="0.9" />
<line x1="61.50" y1="413.40" x2="61.50" y2="440.00" stroke="#2a2a2a" stroke-width="1.0" />
<line x1="70.50" y1="413.40" x2="70.50" y2="420.60" stroke="#2a2a2a" stroke-width="1.0" />
<circle cx="61.50" cy="420.80" r="1.2" fill="none" stroke="#555" stroke-width="0.8"/>
<circle cx="70.50" cy="420.80" r="1.2" fill="none" stroke="#555" stroke-width="0.8"/>
<line x1="61.50" y1="424.20" x2="70.50" y2="424.20" stroke="#555" stroke-width="0.9" />
<line x1="70.50" y1="420.80" x2="70.50" y2="424.20" stroke="#555" stroke-width="0.9" />
<line x1="70.50" y1="440.00" x2="70.50" y2="433.70" stroke="#2a2a2a" stroke-width="1.1" />
<line x1="68.30" y1="434.20" x2="72.70" y2="434.20" stroke="#2a2a2a" stroke-width="1.3" />
<line x1="129.00" y1="414.20" x2="167.60" y2="414.20" stroke="#333" stroke-width="1.25" />
<line x1="129.00" y1="439.20" x2="167.60" y2="439.20" stroke="#333" stroke-width="1.25" />
<rect x="129.30" y="417.60" width="38.20" height="17.90" rx="0.5" fill="none" stroke="#6a6a6a" stroke-width="0.85"/>
<line x1="148.70" y1="417.60" x2="148.70" y2="435.50" stroke="#2a2a2a" stroke-width="1.2" />
<line x1="131.40" y1="418.00" x2="145.20" y2="435.10" stroke="#2a2a2a" stroke-width="1.05" />
<line x1="131.40" y1="435.10" x2="145.20" y2="418.00" stroke="#2a2a2a" stroke-width="1.05" />
<polygon points="144.37,419.03 143.79,422.54 141.23,422.92 141.06,420.34" fill="#2a2a2a"/>
<polygon points="144.37,434.07 141.06,432.76 141.23,430.18 143.79,430.56" fill="#2a2a2a"/>
<line x1="153.20" y1="413.40" x2="153.20" y2="440.00" stroke="#2a2a2a" stroke-width="1.0" />
<line x1="162.10" y1="413.40" x2="162.10" y2="420.60" stroke="#2a2a2a" stroke-width="1.0" />
<circle cx="153.20" cy="420.80" r="1.2" fill="none" stroke="#555" stroke-width="0.8"/>
<circle cx="162.10" cy="420.80" r="1.2" fill="none" stroke="#555" stroke-width="0.8"/>
<line x1="153.20" y1="424.20" x2="162.10" y2="424.20" stroke="#555" stroke-width="0.9" />
<line x1="162.10" y1="420.80" x2="162.10" y2="424.20" stroke="#555" stroke-width="0.9" />
<line x1="162.10" y1="440.00" x2="162.10" y2="433.70" stroke="#2a2a2a" stroke-width="1.1" />
<line x1="159.90" y1="434.20" x2="164.30" y2="434.20" stroke="#2a2a2a" stroke-width="1.3" />
<text x="176.20" y="431.05" font-size="13" style="stroke-width:0.4px"><tspan font-size="11.6" font-weight="bold" dy="-0.8">=</tspan><tspan dy="0.8">MA</tspan></text>
<line x1="20.60" y1="453.20" x2="76.20" y2="453.20" stroke="#333" stroke-width="1.25" />
<line x1="20.60" y1="478.60" x2="76.20" y2="478.60" stroke="#333" stroke-width="1.25" />
<rect x="20.30" y="456.60" width="19.20" height="18.20" rx="0.7" fill="none" stroke="#5c5c5c" stroke-width="0.9"/>
<line x1="22.80" y1="457.00" x2="35.80" y2="474.40" stroke="#2a2a2a" stroke-width="1.05" />
<line x1="22.80" y1="474.40" x2="35.80" y2="457.00" stroke="#2a2a2a" stroke-width="1.05" />
<polygon points="35.02,458.04 34.57,461.57 32.03,462.05 31.76,459.48" fill="#2a2a2a"/>
<polygon points="35.02,473.36 31.76,471.92 32.03,469.35 34.57,469.83" fill="#2a2a2a"/>
<rect x="56.60" y="456.60" width="19.00" height="18.20" rx="0.7" fill="none" stroke="#5c5c5c" stroke-width="0.9"/>
<line x1="51.90" y1="456.90" x2="51.90" y2="462.80" stroke="#555" stroke-width="0.9" />
<polygon points="49.60,456.70 54.20,456.70 51.90,458.60" fill="#2a2a2a"/>
<line x1="49.30" y1="463.10" x2="54.50" y2="463.10" stroke="#555" stroke-width="0.9" />
<line x1="44.90" y1="474.30" x2="44.90" y2="469.00" stroke="#555" stroke-width="0.9" />
<polygon points="42.60,474.40 47.20,474.40 44.90,472.50" fill="#2a2a2a"/>
<line x1="42.30" y1="468.60" x2="47.50" y2="468.60" stroke="#555" stroke-width="0.9" />
<line x1="44.30" y1="457.20" x2="51.70" y2="474.00" stroke="#2a2a2a" stroke-width="1.0" />
<polygon points="51.90,474.50 49.08,471.65 49.59,468.96 51.85,470.49" fill="#2a2a2a"/>
<line x1="42.30" y1="457.10" x2="46.30" y2="457.10" stroke="#2a2a2a" stroke-width="0.9" />
<line x1="70.50" y1="452.40" x2="70.50" y2="479.40" stroke="#2a2a2a" stroke-width="1.0" />
<line x1="61.50" y1="452.40" x2="61.50" y2="459.60" stroke="#2a2a2a" stroke-width="1.0" />
<circle cx="70.50" cy="459.80" r="1.2" fill="none" stroke="#555" stroke-width="0.8"/>
<circle cx="61.50" cy="459.80" r="1.2" fill="none" stroke="#555" stroke-width="0.8"/>
<line x1="61.50" y1="463.20" x2="70.50" y2="463.20" stroke="#555" stroke-width="0.9" />
<line x1="61.50" y1="459.80" x2="61.50" y2="463.20" stroke="#555" stroke-width="0.9" />
<line x1="61.50" y1="479.40" x2="61.50" y2="473.00" stroke="#2a2a2a" stroke-width="1.1" />
<line x1="59.30" y1="473.50" x2="63.70" y2="473.50" stroke="#2a2a2a" stroke-width="1.3" />
<line x1="129.00" y1="453.20" x2="167.60" y2="453.20" stroke="#333" stroke-width="1.25" />
<line x1="129.00" y1="478.60" x2="167.60" y2="478.60" stroke="#333" stroke-width="1.25" />
<rect x="129.30" y="456.60" width="38.20" height="18.20" rx="0.5" fill="none" stroke="#6a6a6a" stroke-width="0.85"/>
<line x1="148.70" y1="456.60" x2="148.70" y2="474.80" stroke="#2a2a2a" stroke-width="1.2" />
<line x1="131.40" y1="457.00" x2="145.20" y2="474.40" stroke="#2a2a2a" stroke-width="1.05" />
<line x1="131.40" y1="474.40" x2="145.20" y2="457.00" stroke="#2a2a2a" stroke-width="1.05" />
<polygon points="144.37,458.04 143.82,461.56 141.27,461.96 141.07,459.39" fill="#2a2a2a"/>
<polygon points="144.37,473.36 141.07,472.01 141.27,469.44 143.82,469.84" fill="#2a2a2a"/>
<line x1="163.20" y1="452.40" x2="163.20" y2="479.40" stroke="#2a2a2a" stroke-width="1.0" />
<line x1="154.30" y1="452.40" x2="154.30" y2="459.60" stroke="#2a2a2a" stroke-width="1.0" />
<circle cx="163.20" cy="459.80" r="1.2" fill="none" stroke="#555" stroke-width="0.8"/>
<circle cx="154.30" cy="459.80" r="1.2" fill="none" stroke="#555" stroke-width="0.8"/>
<line x1="154.30" y1="463.20" x2="163.20" y2="463.20" stroke="#555" stroke-width="0.9" />
<line x1="154.30" y1="459.80" x2="154.30" y2="463.20" stroke="#555" stroke-width="0.9" />
<line x1="154.30" y1="479.40" x2="154.30" y2="473.00" stroke="#2a2a2a" stroke-width="1.1" />
<line x1="152.10" y1="473.50" x2="156.50" y2="473.50" stroke="#2a2a2a" stroke-width="1.3" />
<text x="176.20" y="470.20" font-size="13" style="stroke-width:0.4px"><tspan font-size="11.6" font-weight="bold" dy="-0.8">=</tspan><tspan dy="0.8">WA</tspan></text>
<line x1="20.60" y1="494.90" x2="74.80" y2="494.90" stroke="#2a2a2a" stroke-width="1.05" />
<line x1="20.60" y1="519.40" x2="74.80" y2="519.40" stroke="#2a2a2a" stroke-width="1.05" />
<rect x="20.30" y="498.40" width="19.20" height="17.40" rx="0.5" fill="none" stroke="#4c4c4c" stroke-width="1.0"/>
<rect x="56.60" y="498.40" width="18.00" height="17.40" rx="0.5" fill="none" stroke="#4c4c4c" stroke-width="1.0"/>
<line x1="41.80" y1="497.95" x2="56.00" y2="497.95" stroke="#3c3c3c" stroke-width="1.15" stroke-dasharray="4.2 2.2"/>
<line x1="41.80" y1="515.05" x2="56.00" y2="515.05" stroke="#3c3c3c" stroke-width="1.15" stroke-dasharray="4.2 2.2"/>
<line x1="26.50" y1="493.90" x2="26.50" y2="498.40" stroke="#2a2a2a" stroke-width="1.0" />
<line x1="26.50" y1="520.40" x2="26.50" y2="515.80" stroke="#2a2a2a" stroke-width="1.0" />
<line x1="25.30" y1="497.20" x2="27.70" y2="497.20" stroke="#2a2a2a" stroke-width="0.8" />
<line x1="25.30" y1="517.00" x2="27.70" y2="517.00" stroke="#2a2a2a" stroke-width="0.8" />
<line x1="35.20" y1="493.90" x2="35.20" y2="498.40" stroke="#2a2a2a" stroke-width="1.0" />
<line x1="35.20" y1="520.40" x2="35.20" y2="515.80" stroke="#2a2a2a" stroke-width="1.0" />
<line x1="34.00" y1="497.20" x2="36.40" y2="497.20" stroke="#2a2a2a" stroke-width="0.8" />
<line x1="34.00" y1="517.00" x2="36.40" y2="517.00" stroke="#2a2a2a" stroke-width="0.8" />
<text x="29.70" y="510.70" font-size="12.4" text-anchor="middle" fill="#1c1c1c" style="stroke-width:0.45px">a</text>
<text x="65.50" y="510.70" font-size="12.4" text-anchor="middle" fill="#1c1c1c" style="stroke-width:0.45px">b</text>
<line x1="128.50" y1="494.90" x2="166.70" y2="494.90" stroke="#2a2a2a" stroke-width="1.05" />
<line x1="128.50" y1="519.40" x2="166.70" y2="519.40" stroke="#2a2a2a" stroke-width="1.05" />
<rect x="128.30" y="498.40" width="38.30" height="17.40" rx="0.5" fill="none" stroke="#4c4c4c" stroke-width="1.0"/>
<line x1="147.60" y1="498.40" x2="147.60" y2="515.80" stroke="#2a2a2a" stroke-width="1.1" />
<line x1="133.80" y1="493.90" x2="133.80" y2="498.40" stroke="#2a2a2a" stroke-width="1.0" />
<line x1="133.80" y1="520.40" x2="133.80" y2="515.80" stroke="#2a2a2a" stroke-width="1.0" />
<line x1="132.60" y1="497.20" x2="135.00" y2="497.20" stroke="#2a2a2a" stroke-width="0.8" />
<line x1="132.60" y1="517.00" x2="135.00" y2="517.00" stroke="#2a2a2a" stroke-width="0.8" />
<line x1="142.80" y1="493.90" x2="142.80" y2="498.40" stroke="#2a2a2a" stroke-width="1.0" />
<line x1="142.80" y1="520.40" x2="142.80" y2="515.80" stroke="#2a2a2a" stroke-width="1.0" />
<line x1="141.60" y1="497.20" x2="144.00" y2="497.20" stroke="#2a2a2a" stroke-width="0.8" />
<line x1="141.60" y1="517.00" x2="144.00" y2="517.00" stroke="#2a2a2a" stroke-width="0.8" />
<text x="138.10" y="510.70" font-size="12.4" text-anchor="middle" fill="#1c1c1c" style="stroke-width:0.45px">a</text>
<text x="156.90" y="510.70" font-size="12.4" text-anchor="middle" fill="#1c1c1c" style="stroke-width:0.45px">b</text>
<text x="130.00" y="492.60" font-size="11.6" textLength="17.40" lengthAdjust="spacing" text-anchor="start" fill="#1c1c1c" style="stroke-width:0.4px">AB</text>
<text x="130.80" y="531.90" font-size="11.6" textLength="16.20" lengthAdjust="spacing" text-anchor="start" fill="#1c1c1c" style="stroke-width:0.4px">PT</text>
<line x1="20.00" y1="539.90" x2="76.40" y2="539.90" stroke="#333" stroke-width="1.25" />
<line x1="20.00" y1="564.40" x2="76.40" y2="564.40" stroke="#333" stroke-width="1.25" />
<rect x="20.30" y="543.30" width="19.20" height="17.70" rx="0.7" fill="none" stroke="#5c5c5c" stroke-width="0.9"/>
<rect x="55.60" y="543.30" width="19.40" height="17.70" rx="0.7" fill="none" stroke="#5c5c5c" stroke-width="0.9"/>
<line x1="61.40" y1="543.80" x2="61.40" y2="560.50" stroke="#555" stroke-width="0.95" />
<line x1="68.30" y1="543.80" x2="68.30" y2="560.50" stroke="#4a4a4a" stroke-width="0.95" />
<polygon points="61.40,544.40 63.55,549.60 59.25,549.60" fill="#2a2a2a"/>
<polygon points="68.30,559.70 66.15,554.30 70.45,554.30" fill="#2a2a2a"/>
<line x1="43.20" y1="543.60" x2="43.20" y2="549.50" stroke="#555" stroke-width="0.9" />
<polygon points="40.90,543.40 45.50,543.40 43.20,545.30" fill="#2a2a2a"/>
<line x1="40.60" y1="549.80" x2="45.80" y2="549.80" stroke="#555" stroke-width="0.9" />
<line x1="43.20" y1="560.50" x2="43.20" y2="555.20" stroke="#555" stroke-width="0.9" />
<polygon points="40.90,560.60 45.50,560.60 43.20,558.70" fill="#2a2a2a"/>
<line x1="40.60" y1="554.80" x2="45.80" y2="554.80" stroke="#555" stroke-width="0.9" />
<line x1="50.40" y1="543.60" x2="50.40" y2="549.50" stroke="#555" stroke-width="0.9" />
<polygon points="48.10,543.40 52.70,543.40 50.40,545.30" fill="#2a2a2a"/>
<line x1="47.80" y1="549.80" x2="53.00" y2="549.80" stroke="#555" stroke-width="0.9" />
<line x1="50.40" y1="560.50" x2="50.40" y2="555.20" stroke="#555" stroke-width="0.9" />
<polygon points="48.10,560.60 52.70,560.60 50.40,558.70" fill="#2a2a2a"/>
<line x1="47.80" y1="554.80" x2="53.00" y2="554.80" stroke="#555" stroke-width="0.9" />
<line x1="25.60" y1="539.10" x2="25.60" y2="545.10" stroke="#2a2a2a" stroke-width="1.1" />
<line x1="23.40" y1="544.60" x2="27.80" y2="544.60" stroke="#2a2a2a" stroke-width="1.3" />
<line x1="25.60" y1="565.20" x2="25.60" y2="559.20" stroke="#2a2a2a" stroke-width="1.1" />
<line x1="23.40" y1="559.70" x2="27.80" y2="559.70" stroke="#2a2a2a" stroke-width="1.3" />
<line x1="34.20" y1="539.10" x2="34.20" y2="545.10" stroke="#2a2a2a" stroke-width="1.1" />
<line x1="32.00" y1="544.60" x2="36.40" y2="544.60" stroke="#2a2a2a" stroke-width="1.3" />
<line x1="34.20" y1="565.20" x2="34.20" y2="559.20" stroke="#2a2a2a" stroke-width="1.1" />
<line x1="32.00" y1="559.70" x2="36.40" y2="559.70" stroke="#2a2a2a" stroke-width="1.3" />
<line x1="127.80" y1="539.90" x2="166.10" y2="539.90" stroke="#333" stroke-width="1.25" />
<line x1="127.80" y1="564.40" x2="166.10" y2="564.40" stroke="#333" stroke-width="1.25" />
<rect x="128.30" y="543.30" width="38.30" height="17.70" rx="0.5" fill="none" stroke="#6a6a6a" stroke-width="0.85"/>
<line x1="147.00" y1="543.30" x2="147.00" y2="561.00" stroke="#2a2a2a" stroke-width="1.2" />
<line x1="153.40" y1="543.80" x2="153.40" y2="560.50" stroke="#555" stroke-width="0.95" />
<line x1="160.10" y1="543.80" x2="160.10" y2="560.50" stroke="#4a4a4a" stroke-width="0.95" />
<polygon points="153.40,544.40 155.55,549.60 151.25,549.60" fill="#2a2a2a"/>
<polygon points="160.10,559.70 157.95,554.30 162.25,554.30" fill="#2a2a2a"/>
<line x1="133.20" y1="539.10" x2="133.20" y2="545.10" stroke="#2a2a2a" stroke-width="1.1" />
<line x1="131.00" y1="544.60" x2="135.40" y2="544.60" stroke="#2a2a2a" stroke-width="1.3" />
<line x1="133.20" y1="565.20" x2="133.20" y2="559.20" stroke="#2a2a2a" stroke-width="1.1" />
<line x1="131.00" y1="559.70" x2="135.40" y2="559.70" stroke="#2a2a2a" stroke-width="1.3" />
<line x1="141.60" y1="539.10" x2="141.60" y2="545.10" stroke="#2a2a2a" stroke-width="1.1" />
<line x1="139.40" y1="544.60" x2="143.80" y2="544.60" stroke="#2a2a2a" stroke-width="1.3" />
<line x1="141.60" y1="565.20" x2="141.60" y2="559.20" stroke="#2a2a2a" stroke-width="1.1" />
<line x1="139.40" y1="559.70" x2="143.80" y2="559.70" stroke="#2a2a2a" stroke-width="1.3" />
<text x="176.20" y="556.65" font-size="13" style="stroke-width:0.4px"><tspan font-size="11.6" font-weight="bold" dy="-0.8">=</tspan><tspan dy="0.8">EB</tspan></text>
<line x1="20.00" y1="578.80" x2="76.40" y2="578.80" stroke="#333" stroke-width="1.25" />
<line x1="20.00" y1="604.20" x2="76.40" y2="604.20" stroke="#333" stroke-width="1.25" />
<rect x="20.30" y="582.30" width="19.20" height="18.10" rx="0.7" fill="none" stroke="#5c5c5c" stroke-width="0.9"/>
<rect x="55.60" y="582.30" width="19.40" height="18.10" rx="0.7" fill="none" stroke="#5c5c5c" stroke-width="0.9"/>
<line x1="61.40" y1="582.80" x2="61.40" y2="599.90" stroke="#555" stroke-width="0.95" />
<line x1="68.30" y1="582.80" x2="68.30" y2="599.90" stroke="#4a4a4a" stroke-width="0.95" />
<polygon points="61.40,583.40 63.55,588.60 59.25,588.60" fill="#2a2a2a"/>
<polygon points="68.30,599.10 66.15,593.70 70.45,593.70" fill="#2a2a2a"/>
<line x1="43.20" y1="583.30" x2="43.20" y2="599.90" stroke="#555" stroke-width="0.9" />
<polygon points="43.20,582.90 45.00,587.90 41.40,587.90" fill="#2a2a2a"/>
<line x1="40.80" y1="600.00" x2="45.60" y2="600.00" stroke="#555" stroke-width="0.9" />
<line x1="50.40" y1="582.60" x2="50.40" y2="588.50" stroke="#555" stroke-width="0.9" />
<polygon points="48.10,582.40 52.70,582.40 50.40,584.30" fill="#2a2a2a"/>
<line x1="47.80" y1="588.80" x2="53.00" y2="588.80" stroke="#555" stroke-width="0.9" />
<line x1="50.40" y1="599.90" x2="50.40" y2="594.60" stroke="#555" stroke-width="0.9" />
<polygon points="48.10,600.00 52.70,600.00 50.40,598.10" fill="#2a2a2a"/>
<line x1="47.80" y1="594.20" x2="53.00" y2="594.20" stroke="#555" stroke-width="0.9" />
<line x1="25.60" y1="578.00" x2="25.60" y2="605.00" stroke="#2a2a2a" stroke-width="1.0" />
<line x1="34.20" y1="578.00" x2="34.20" y2="585.30" stroke="#2a2a2a" stroke-width="1.0" />
<circle cx="25.60" cy="585.50" r="1.2" fill="none" stroke="#555" stroke-width="0.8"/>
<circle cx="34.20" cy="585.50" r="1.2" fill="none" stroke="#555" stroke-width="0.8"/>
<line x1="25.60" y1="588.90" x2="34.20" y2="588.90" stroke="#555" stroke-width="0.9" />
<line x1="34.20" y1="585.50" x2="34.20" y2="588.90" stroke="#555" stroke-width="0.9" />
<line x1="34.20" y1="605.00" x2="34.20" y2="598.60" stroke="#2a2a2a" stroke-width="1.1" />
<line x1="32.00" y1="599.10" x2="36.40" y2="599.10" stroke="#2a2a2a" stroke-width="1.3" />
<line x1="127.80" y1="578.80" x2="166.10" y2="578.80" stroke="#333" stroke-width="1.25" />
<line x1="127.80" y1="604.20" x2="166.10" y2="604.20" stroke="#333" stroke-width="1.25" />
<rect x="128.30" y="582.30" width="38.30" height="18.10" rx="0.5" fill="none" stroke="#6a6a6a" stroke-width="0.85"/>
<line x1="147.00" y1="582.30" x2="147.00" y2="600.40" stroke="#2a2a2a" stroke-width="1.2" />
<line x1="153.40" y1="582.80" x2="153.40" y2="599.90" stroke="#555" stroke-width="0.95" />
<line x1="160.10" y1="582.80" x2="160.10" y2="599.90" stroke="#4a4a4a" stroke-width="0.95" />
<polygon points="153.40,583.40 155.55,588.60 151.25,588.60" fill="#2a2a2a"/>
<polygon points="160.10,599.10 157.95,593.70 162.25,593.70" fill="#2a2a2a"/>
<line x1="133.20" y1="578.00" x2="133.20" y2="605.00" stroke="#2a2a2a" stroke-width="1.0" />
<line x1="141.60" y1="578.00" x2="141.60" y2="585.30" stroke="#2a2a2a" stroke-width="1.0" />
<circle cx="133.20" cy="585.50" r="1.2" fill="none" stroke="#555" stroke-width="0.8"/>
<circle cx="141.60" cy="585.50" r="1.2" fill="none" stroke="#555" stroke-width="0.8"/>
<line x1="133.20" y1="588.90" x2="141.60" y2="588.90" stroke="#555" stroke-width="0.9" />
<line x1="141.60" y1="585.50" x2="141.60" y2="588.90" stroke="#555" stroke-width="0.9" />
<line x1="141.60" y1="605.00" x2="141.60" y2="598.60" stroke="#2a2a2a" stroke-width="1.1" />
<line x1="139.40" y1="599.10" x2="143.80" y2="599.10" stroke="#2a2a2a" stroke-width="1.3" />
<text x="176.20" y="595.85" font-size="13" style="stroke-width:0.4px"><tspan font-size="11.6" font-weight="bold" dy="-0.8">=</tspan><tspan dy="0.8">MB</tspan></text>
<line x1="20.00" y1="618.20" x2="76.40" y2="618.20" stroke="#333" stroke-width="1.25" />
<line x1="20.00" y1="643.20" x2="76.40" y2="643.20" stroke="#333" stroke-width="1.25" />
<rect x="20.30" y="621.60" width="19.20" height="17.50" rx="0.7" fill="none" stroke="#5c5c5c" stroke-width="0.9"/>
<rect x="55.60" y="621.60" width="19.40" height="17.50" rx="0.7" fill="none" stroke="#5c5c5c" stroke-width="0.9"/>
<line x1="61.40" y1="622.10" x2="61.40" y2="638.60" stroke="#555" stroke-width="0.95" />
<line x1="68.30" y1="622.10" x2="68.30" y2="638.60" stroke="#4a4a4a" stroke-width="0.95" />
<polygon points="61.40,622.70 63.55,627.90 59.25,627.90" fill="#2a2a2a"/>
<polygon points="68.30,637.80 66.15,632.40 70.45,632.40" fill="#2a2a2a"/>
<line x1="43.20" y1="622.60" x2="43.20" y2="638.60" stroke="#555" stroke-width="0.9" />
<polygon points="43.20,622.20 45.00,627.20 41.40,627.20" fill="#2a2a2a"/>
<line x1="40.80" y1="638.70" x2="45.60" y2="638.70" stroke="#555" stroke-width="0.9" />
<line x1="50.40" y1="621.90" x2="50.40" y2="627.80" stroke="#555" stroke-width="0.9" />
<polygon points="48.10,621.70 52.70,621.70 50.40,623.60" fill="#2a2a2a"/>
<line x1="47.80" y1="628.10" x2="53.00" y2="628.10" stroke="#555" stroke-width="0.9" />
<line x1="50.40" y1="638.60" x2="50.40" y2="633.30" stroke="#555" stroke-width="0.9" />
<polygon points="48.10,638.70 52.70,638.70 50.40,636.80" fill="#2a2a2a"/>
<line x1="47.80" y1="632.90" x2="53.00" y2="632.90" stroke="#555" stroke-width="0.9" />
<line x1="34.20" y1="617.40" x2="34.20" y2="644.00" stroke="#2a2a2a" stroke-width="1.0" />
<line x1="25.60" y1="617.40" x2="25.60" y2="624.60" stroke="#2a2a2a" stroke-width="1.0" />
<circle cx="34.20" cy="624.80" r="1.2" fill="none" stroke="#555" stroke-width="0.8"/>
<circle cx="25.60" cy="624.80" r="1.2" fill="none" stroke="#555" stroke-width="0.8"/>
<line x1="25.60" y1="628.20" x2="34.20" y2="628.20" stroke="#555" stroke-width="0.9" />
<line x1="25.60" y1="624.80" x2="25.60" y2="628.20" stroke="#555" stroke-width="0.9" />
<line x1="25.60" y1="644.00" x2="25.60" y2="637.30" stroke="#2a2a2a" stroke-width="1.1" />
<line x1="23.40" y1="637.80" x2="27.80" y2="637.80" stroke="#2a2a2a" stroke-width="1.3" />
<line x1="127.80" y1="618.20" x2="166.10" y2="618.20" stroke="#333" stroke-width="1.25" />
<line x1="127.80" y1="643.20" x2="166.10" y2="643.20" stroke="#333" stroke-width="1.25" />
<rect x="128.30" y="621.60" width="38.30" height="17.50" rx="0.5" fill="none" stroke="#6a6a6a" stroke-width="0.85"/>
<line x1="147.00" y1="621.60" x2="147.00" y2="639.10" stroke="#2a2a2a" stroke-width="1.2" />
<line x1="153.40" y1="622.10" x2="153.40" y2="638.60" stroke="#555" stroke-width="0.95" />
<line x1="160.10" y1="622.10" x2="160.10" y2="638.60" stroke="#4a4a4a" stroke-width="0.95" />
<polygon points="153.40,622.70 155.55,627.90 151.25,627.90" fill="#2a2a2a"/>
<polygon points="160.10,637.80 157.95,632.40 162.25,632.40" fill="#2a2a2a"/>
<line x1="141.60" y1="617.40" x2="141.60" y2="644.00" stroke="#2a2a2a" stroke-width="1.0" />
<line x1="133.20" y1="617.40" x2="133.20" y2="624.60" stroke="#2a2a2a" stroke-width="1.0" />
<circle cx="141.60" cy="624.80" r="1.2" fill="none" stroke="#555" stroke-width="0.8"/>
<circle cx="133.20" cy="624.80" r="1.2" fill="none" stroke="#555" stroke-width="0.8"/>
<line x1="133.20" y1="628.20" x2="141.60" y2="628.20" stroke="#555" stroke-width="0.9" />
<line x1="133.20" y1="624.80" x2="133.20" y2="628.20" stroke="#555" stroke-width="0.9" />
<line x1="133.20" y1="644.00" x2="133.20" y2="637.30" stroke="#2a2a2a" stroke-width="1.1" />
<line x1="131.00" y1="637.80" x2="135.40" y2="637.80" stroke="#2a2a2a" stroke-width="1.3" />
<text x="176.20" y="634.85" font-size="13" style="stroke-width:0.4px"><tspan font-size="11.6" font-weight="bold" dy="-0.8">=</tspan><tspan dy="0.8">WB</tspan></text>
<text class="r" x="489.55" y="131.20" textLength="69.40" lengthAdjust="spacing" word-spacing="-1.2"><tspan font-size="16.2" letter-spacing="1.0">其它说明</tspan></text>
<text class="r" x="489.30" y="174.80" textLength="78.15" lengthAdjust="spacing" word-spacing="-1.2"><tspan font-size="16.5">M=</tspan><tspan font-size="16.2" letter-spacing="1.0">矿物油</tspan></text>
<text class="r" x="490.30" y="195.60" textLength="89.41" lengthAdjust="spacing" word-spacing="-1.2"><tspan font-size="16.5">V=</tspan><tspan font-size="16.2" letter-spacing="1.0">磷酸酯液</tspan></text>
<text class="r" x="490.00" y="239.20" textLength="197.60" lengthAdjust="spacing" word-spacing="-1.2"><tspan font-size="16.5">Z<tspan font-size="10" dy="2.6" font-weight="bold">4</tspan><tspan dy="-2.6"> = </tspan></tspan><tspan font-size="16.2" letter-spacing="1.0">插头</tspan><tspan font-size="16.5">(</tspan><tspan font-size="16.2" letter-spacing="1.0">海水保护无插头</tspan><tspan font-size="16.5">)</tspan></text>
<text class="r" x="490.05" y="281.00" textLength="154.66" lengthAdjust="spacing" word-spacing="-1.2"><tspan font-size="16.2" letter-spacing="1.0">无标记</tspan><tspan font-size="16.5"> = </tspan><tspan font-size="16.2" letter-spacing="1.0">无特殊保护</tspan></text>
<text class="r" x="523.75" y="303.20" textLength="89.39" lengthAdjust="spacing" word-spacing="-1.2"><tspan font-size="16.5">J=</tspan><tspan font-size="16.2" letter-spacing="1.0">海水保护</tspan></text>
<text class="r" x="490.05" y="346.20" textLength="154.51" lengthAdjust="spacing" word-spacing="-1.2"><tspan font-size="16.2" letter-spacing="1.0">无标记</tspan><tspan font-size="16.5"> = </tspan><tspan font-size="16.2" letter-spacing="1.0">无手动按钮</tspan></text>
<text class="r" x="524.05" y="368.40" textLength="109.95" lengthAdjust="spacing" word-spacing="-1.2"><tspan font-size="16.5">N=</tspan><tspan font-size="16.2" letter-spacing="1.0">带手动按钮</tspan></text>
<text class="r" x="489.55" y="410.80" textLength="99.00" lengthAdjust="spacing" word-spacing="-1.2"><tspan font-size="16.5">24 = </tspan><tspan font-size="16.2" letter-spacing="1.0">直流</tspan><tspan font-size="16.5">24V</tspan></text>
<text class="r" x="490.90" y="452.60" textLength="301.85" lengthAdjust="spacing" word-spacing="-2.6"><tspan font-size="16.5" letter-spacing="0.7">10</tspan><tspan font-size="16.2" letter-spacing="1.0">系列</tspan><tspan font-size="16.5" letter-spacing="0.7"> = (10~19)</tspan><tspan font-size="16.2" letter-spacing="1.0">安装连接尺寸保护不变</tspan></text>
<text class="r" x="489.75" y="496.20" textLength="216.94" lengthAdjust="spacing" word-spacing="-1.2"><tspan font-size="16.2" letter-spacing="1.0">在</tspan><tspan font-size="15.9">1MPa</tspan><tspan font-size="16.2" letter-spacing="1.0">阀压降下的名义流量</tspan></text>
<text class="r" x="489.45" y="516.70" textLength="44.62" lengthAdjust="spacing" word-spacing="-1.2"><tspan font-size="15.9">6</tspan><tspan font-size="16.2" letter-spacing="1.0">通径</tspan></text>
<text class="r" x="567.20" y="516.70" textLength="78.30" lengthAdjust="spacing" word-spacing="-1.2"><tspan font-size="15.9">5 = 8L/min</tspan></text>
<text class="r" x="557.20" y="539.40" textLength="89.10" lengthAdjust="spacing" word-spacing="-1.2"><tspan font-size="15.9">10=13L/min</tspan></text>
<text class="r" x="489.30" y="560.20" textLength="91.65" lengthAdjust="spacing" word-spacing="-1.2"><tspan font-size="15.9">20=17L/min</tspan></text>
<text class="r" x="490.10" y="581.20" textLength="53.11" lengthAdjust="spacing" word-spacing="-1.2"><tspan font-size="15.9">10</tspan><tspan font-size="16.2" letter-spacing="1.0">通径</tspan></text>
<text class="r" x="578.80" y="581.20" textLength="95.37" lengthAdjust="spacing" word-spacing="-1.2"><tspan font-size="15.9">10 = 18L/min</tspan></text>
<text class="r" x="489.30" y="602.90" textLength="97.87" lengthAdjust="spacing" word-spacing="-1.2"><tspan font-size="15.9">20 = 27L/min</tspan></text>
<text class="r" x="489.80" y="624.00" textLength="97.37" lengthAdjust="spacing" word-spacing="-1.2"><tspan font-size="15.9">40 = 50L/min</tspan></text>
</svg>
</body>
</html>
